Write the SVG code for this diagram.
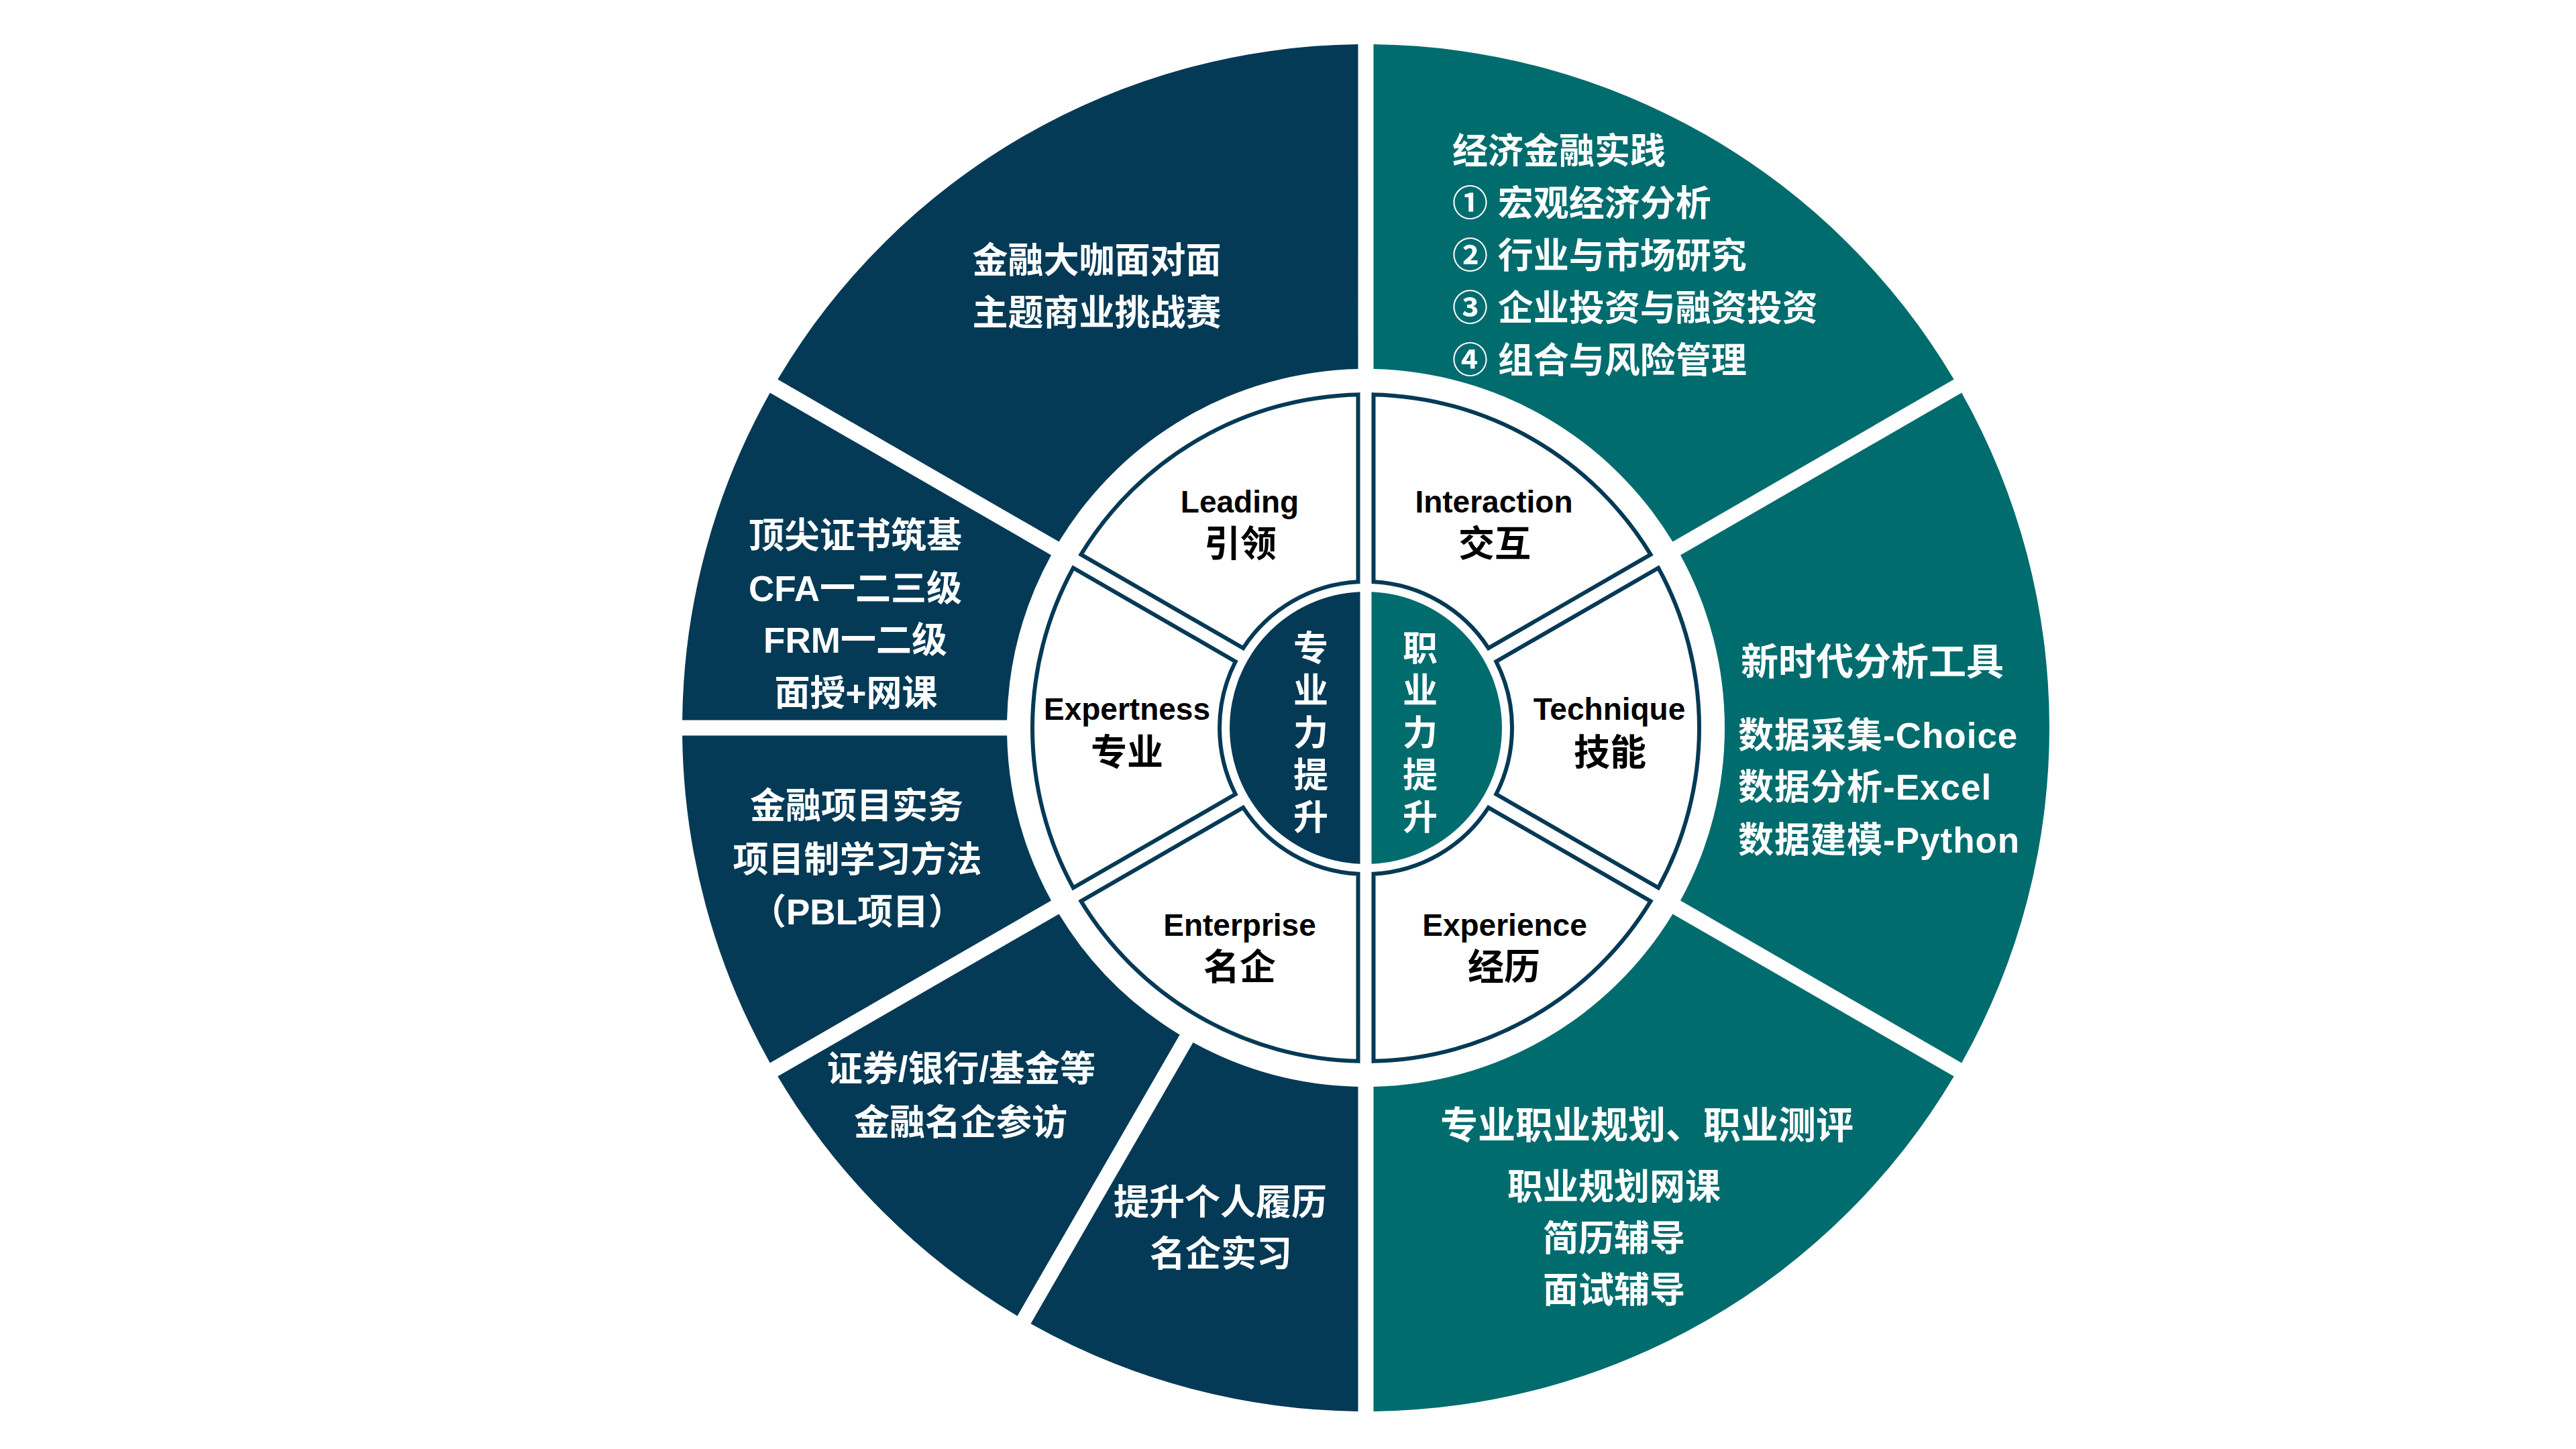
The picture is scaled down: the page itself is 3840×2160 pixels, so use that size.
<svg xmlns="http://www.w3.org/2000/svg" width="3840" height="2160" viewBox="0 0 3840 2160">
<style>
.navy{fill:#043A56}
.teal{fill:#006C6E}
.wseg{fill:#FFFFFF;stroke:#043A56;stroke-width:6;stroke-linejoin:miter}
.wt{fill:#FFFFFF;font-family:"Liberation Sans","Noto Sans CJK SC",sans-serif;font-weight:bold;font-size:53px}
.wh{font-size:56px}
.bt{fill:#000000;font-family:"Liberation Sans","Noto Sans CJK SC",sans-serif;font-weight:bold}
.en{font-size:46px}
.zh{font-size:54px}
.vt{fill:#FFFFFF;font-family:"Noto Sans CJK SC",sans-serif;font-weight:bold;font-size:52px;writing-mode:vertical-rl;letter-spacing:11px}
.c{text-anchor:middle}
</style>
<defs>
<path id="o60" d="M 468.97 -257.48 L 888.17 -499.51 A 1019 1019 0 0 1 888.17 499.51 L 468.97 257.48 A 535 535 0 0 0 468.97 -257.48 Z"/>
<path id="o30" d="M 519.63 -127.33 L 987.19 -252.61 A 1019 1019 0 0 1 987.19 252.61 L 519.63 127.33 A 535 535 0 0 0 519.63 -127.33 Z"/>
<path id="i60" d="M 194.28 -98.89 L 436.05 -238.47 A 497 497 0 0 1 436.05 238.47 L 194.28 98.89 A 218 218 0 0 0 194.28 -98.89 Z"/>
</defs>
<rect x="0" y="0" width="3840" height="2160" fill="#FFFFFF"/>

<!-- Outer ring: right half (teal) -->
<g id="node-finance-practice">
<use href="#o60" class="teal" transform="translate(2036 1085) rotate(-60)"/>
<text class="wt" x="2165" y="244">经济金融实践</text>
<text class="wt" x="2165" y="322">① 宏观经济分析</text>
<text class="wt" x="2165" y="400">② 行业与市场研究</text>
<text class="wt" x="2165" y="478">③ 企业投资与融资投资</text>
<text class="wt" x="2165" y="556">④ 组合与风险管理</text>
</g>
<g id="node-analysis-tools">
<use href="#o60" class="teal" transform="translate(2036 1085)"/>
<text class="wt wh" x="2595" y="1006">新时代分析工具</text>
<text class="wt" x="2591" y="1115" letter-spacing="1">数据采集-Choice</text>
<text class="wt" x="2591" y="1192" letter-spacing="1">数据分析-Excel</text>
<text class="wt" x="2591" y="1271" letter-spacing="1">数据建模-Python</text>
</g>
<g id="node-career-planning">
<use href="#o60" class="teal" transform="translate(2036 1085) rotate(60)"/>
<text class="wt wh c" x="2455" y="1697">专业职业规划、职业测评</text>
<text class="wt c" x="2406" y="1788">职业规划网课</text>
<text class="wt c" x="2406" y="1865">简历辅导</text>
<text class="wt c" x="2406" y="1942">面试辅导</text>
</g>

<!-- Outer ring: left half (navy) -->
<g id="node-finance-experts">
<use href="#o60" class="navy" transform="translate(2036 1085) rotate(-120)"/>
<text class="wt c" x="1635" y="407">金融大咖面对面</text>
<text class="wt c" x="1635" y="485">主题商业挑战赛</text>
</g>
<g id="node-certificates">
<use href="#o30" class="navy" transform="translate(2036 1085) rotate(-165)"/>
<text class="wt c" x="1275" y="817">顶尖证书筑基</text>
<text class="wt c" x="1275" y="896">CFA一二三级</text>
<text class="wt c" x="1275" y="973">FRM一二级</text>
<text class="wt c" x="1276" y="1052">面授+网课</text>
</g>
<g id="node-project-practice">
<use href="#o30" class="navy" transform="translate(2036 1085) rotate(-195)"/>
<text class="wt c" x="1277" y="1220">金融项目实务</text>
<text class="wt c" x="1278" y="1300">项目制学习方法</text>
<text class="wt c" x="1278" y="1378">（PBL项目）</text>
</g>
<g id="node-company-visits">
<use href="#o30" class="navy" transform="translate(2036 1085) rotate(-225)"/>
<text class="wt c" x="1433" y="1612">证券/银行/基金等</text>
<text class="wt c" x="1432" y="1692">金融名企参访</text>
</g>
<g id="node-internship">
<use href="#o30" class="navy" transform="translate(2036 1085) rotate(-255)"/>
<text class="wt c" x="1819" y="1811">提升个人履历</text>
<text class="wt c" x="1820" y="1888">名企实习</text>
</g>

<!-- Inner white ring -->
<g id="node-leading">
<use href="#i60" class="wseg" transform="translate(2036 1085) rotate(-120)"/>
<text class="bt en c" x="1848" y="764">Leading</text>
<text class="bt zh c" x="1849" y="830">引领</text>
</g>
<g id="node-interaction">
<use href="#i60" class="wseg" transform="translate(2036 1085) rotate(-60)"/>
<text class="bt en c" x="2227" y="764">Interaction</text>
<text class="bt zh c" x="2228" y="830">交互</text>
</g>
<g id="node-technique">
<use href="#i60" class="wseg" transform="translate(2036 1085)"/>
<text class="bt en c" x="2399" y="1073">Technique</text>
<text class="bt zh c" x="2400" y="1141">技能</text>
</g>
<g id="node-experience">
<use href="#i60" class="wseg" transform="translate(2036 1085) rotate(60)"/>
<text class="bt en c" x="2243" y="1395">Experience</text>
<text class="bt zh c" x="2242" y="1461">经历</text>
</g>
<g id="node-enterprise">
<use href="#i60" class="wseg" transform="translate(2036 1085) rotate(120)"/>
<text class="bt en c" x="1848" y="1395">Enterprise</text>
<text class="bt zh c" x="1848" y="1461">名企</text>
</g>
<g id="node-expertness">
<use href="#i60" class="wseg" transform="translate(2036 1085) rotate(180)"/>
<text class="bt en c" x="1680" y="1073">Expertness</text>
<text class="bt zh c" x="1680" y="1141">专业</text>
</g>

<!-- Center circle -->
<g id="node-professional">
<path class="navy" d="M 2027.5 882.18 A 203 203 0 0 0 2027.5 1287.82 Z"/>
<text class="vt" x="1954" y="939">专业力提升</text>
</g>
<g id="node-career">
<path class="teal" d="M 2044.5 882.18 A 203 203 0 0 1 2044.5 1287.82 Z"/>
<text class="vt" x="2117" y="939">职业力提升</text>
</g>

<g id="connectors"/>
</svg>
